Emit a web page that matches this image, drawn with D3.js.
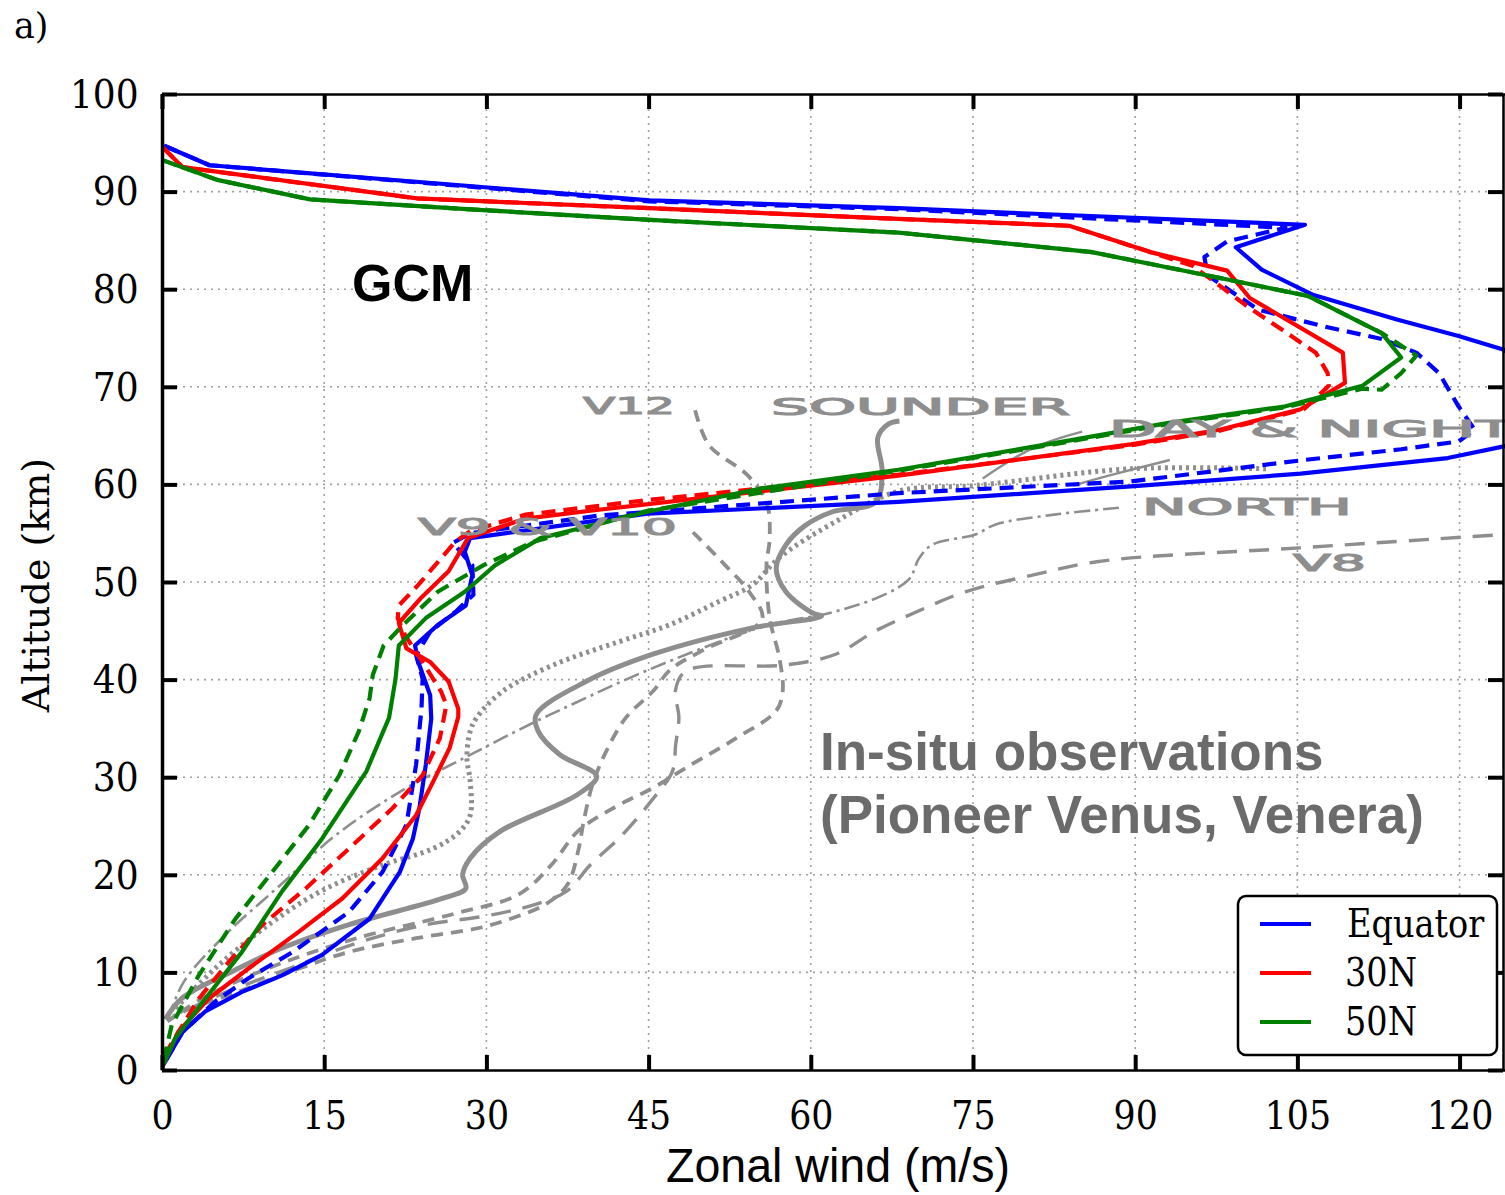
<!DOCTYPE html>
<html>
<head>
<meta charset="utf-8">
<script src="https://cdn.jsdelivr.net/npm/d3@7"></script>
<style>
body { margin: 0; background: #fff; }
</style>
</head>
<body>
<div id="chart"></div>
<script>
// ticks
var xTicks = [0, 15, 30, 45, 60, 75, 90, 105, 120];
var yTicks = [0, 10, 20, 30, 40, 50, 60, 70, 80, 90, 100];

// GCM profiles, [zonal wind m/s, altitude km]
var eqSolid = [[0.2,94.7],[4.4,92.7],[45.1,89.1],[68.1,88.3],[105.7,86.6],[99.3,84.3],[101.7,82.0],[106.5,79.4],[114.2,76.9],[119.9,75.2],[124.1,73.8],[128,70],[128,66],[124.1,63.9],[118.9,62.7],[105.3,61.1],[89.6,59.8],[68.1,58.2],[44.9,57.0],[28.5,54.5],[28.0,53.1],[28.7,50.7],[28.1,47.6],[25.5,45.6],[23.4,43.5],[23.7,41.8],[24.8,38.4],[24.9,36],[24.4,31.3],[23.8,26.8],[23.2,23.7],[22.0,20.3],[19.2,15.5],[14.8,11.8],[11.1,9.7],[7.4,8.0],[4.0,6.0],[1.9,3.9],[0,0.3]];
var eqDash = [[0.2,94.7],[4.4,92.7],[45.1,89.0],[68.1,88.2],[103.9,86.3],[98.5,84.9],[96.4,83.3],[96.7,81.4],[101.4,77.9],[107.4,76.2],[112.8,74.9],[116.0,73.5],[118.1,71.4],[119.9,68.0],[121.4,65.6],[119.9,64.4],[114.6,63.6],[105.6,62.5],[89.6,60.3],[68.1,59.1],[40.4,56.8],[28.5,55.0],[26.9,54.0],[28.7,51.7],[28.8,48.7],[27.2,47.0],[24.8,44.9],[23.5,42.5],[24.1,40.1],[24.0,37.1],[23.5,31.3],[22.6,25.1],[20.4,20.3],[17.3,16.2],[12.1,12.1],[8.0,9.4],[4.9,7.0],[1.9,3.9],[0,0.3]];
var n30Solid = [[0.1,94.5],[1.9,92.5],[23.6,89.3],[45.1,88.3],[68.1,87.2],[83.9,86.5],[91.4,83.8],[98.5,81.9],[100.6,79.1],[109.2,73.5],[109.4,70.4],[105.3,67.7],[97.8,65.6],[89.6,64.1],[68.1,60.9],[40.4,57.4],[33.6,56.5],[28.3,54.5],[26.5,51.1],[23.9,48.3],[21.9,45.8],[22.6,43.2],[24.8,41.8],[26.5,39.8],[27.4,37.0],[27.4,36.2],[26.6,33.0],[25.1,29.6],[23.5,26.1],[20.4,21.7],[16.7,17.6],[12.7,14.2],[8.0,10.4],[4.3,7.3],[1.5,3.9],[0,0.3]];
var n30Dash = [[0.1,94.5],[1.9,92.5],[23.6,89.3],[45.1,88.3],[68.1,87.2],[83.9,86.5],[91.4,83.8],[95.3,82.4],[97.4,80.7],[100.3,78.3],[106.7,73.5],[107.8,71.4],[107.9,70.1],[105.6,67.7],[97.8,65.5],[89.6,64.0],[68.1,61.0],[44.9,58.4],[33.6,56.9],[28.5,55.2],[27.1,54.1],[23.7,49.7],[21.9,47.6],[21.8,46.3],[22.5,44.5],[23.7,42.5],[25.8,38.8],[26.3,37.4],[25.7,34.0],[24.1,30.2],[21.3,26.8],[17.3,22.7],[13.3,18.6],[9.3,14.9],[6.2,11.1],[3.4,7.3],[0.6,2.2],[0,0.3]];
var n50Solid = [[0.1,93.2],[5.1,91.2],[13.7,89.2],[29.7,88.1],[45.1,87.1],[68.1,85.8],[86.0,83.8],[96.7,81.4],[106.0,79.3],[112.8,75.5],[114.6,73.0],[111.0,70.1],[103.9,68.0],[93.1,66.3],[82.4,64.2],[68.1,61.5],[55.5,59.6],[44.9,57.2],[35.0,54.5],[30.8,51.7],[28.0,49.0],[24.4,46.3],[21.9,43.5],[21.6,40.1],[21.3,38.1],[21.0,36.1],[18.9,30.6],[14.8,23.7],[11.1,18.3],[7.4,12.1],[4.0,7.3],[1.2,3.2],[0,0.3]];
var n50Dash = [[0.1,93.2],[5.1,91.2],[13.7,89.2],[29.7,88.1],[45.1,87.1],[68.1,85.8],[86.0,83.8],[96.7,81.4],[106.0,79.3],[112.8,75.5],[114.2,74.5],[116.0,73.2],[114.6,71.4],[112.8,69.7],[111.0,69.8],[103.9,67.9],[93.1,66.2],[82.4,64.1],[68.1,61.4],[44.9,57.3],[34.3,54.1],[29.7,51.7],[25.5,49.0],[22.3,45.6],[20.5,43.5],[19.5,40.5],[19.2,38.1],[18.2,34.7],[16.4,30.2],[13.6,25.1],[10.2,20.3],[6.8,15.5],[3.4,9.7],[0.9,4.6],[0,0.3]];

// in-situ profiles (Pioneer Venus, Venera)
var sounder = [[68.2,66.5],[67.2,66.2],[66.2,64.8],[66.6,61.3],[66.0,58.2],[62.0,57.2],[59.5,55.8],[57.7,53.8],[56.8,51.4],[57.7,49.0],[60.2,46.8],[61.0,46.5],[54.6,45.3],[45.4,42.6],[39.2,39.8],[34.6,36.4],[34.8,34.7],[36.8,32.3],[40.2,30.1],[38.4,28.2],[31.2,24.4],[28.5,21.7],[27.8,20.0],[28.1,18.6],[26.0,17.6],[17.3,14.9],[11.1,12.5],[6.5,10.1],[1.9,7.4],[0.3,5.2]];
var v12 = [[49.3,67.6],[50.6,64.0],[54.1,61.0],[55.9,58.2],[56.2,54.5],[55.9,51.7],[56.2,46.3],[57.1,42.2],[57.4,38.8],[56.8,36.8],[53.1,34.0],[48.5,31.0],[45.4,28.9],[42,27],[38.5,24.5],[36,21],[33,18],[27,16],[18,13.5],[10,10.5],[4,7.5],[0.5,5]];
var v9v10 = [[49.1,55.1],[52.1,51.7],[54.3,49.0],[55.5,46.2],[50,43],[47,41],[45.4,38.8],[42.9,36.1],[41.1,32.7],[39.8,29.2],[39.0,25.5],[38.5,22.5],[37.5,19.0],[35.5,17.0],[32.5,15.6],[29.5,14.6],[23.5,13.5],[17.3,12.1],[12.7,10.4],[7,8],[2,6],[0.5,5]];
var v8 = [[126,55.0],[105.2,53.5],[86.6,52.1],[80.5,50.7],[74.3,49.0],[69.7,46.9],[66,45],[62.3,42.6],[57.7,41.5],[48.5,40.9],[47.5,39],[47.8,36.1],[47.5,33.3],[47.2,30.6],[45.2,27.5],[42.5,24],[39.6,21.0],[37.4,18.3],[34,16.8],[30,15.8],[24,14.8],[18,13],[12,10.5],[6,8],[1,5.5]];
var dayProbe = [[102.1,61.6],[89.6,61.6],[75.3,59.9],[68.1,59.3],[62,56],[57.1,52.5],[54.6,49.7],[51.5,48.0],[46.9,45.6],[42.3,43.9],[36.2,41.5],[31.5,38.8],[29.1,36.1],[28.5,34.7],[28.2,32.0],[28.5,29.6],[28.5,26.1],[27.5,24.4],[25.1,22.7],[20.4,21.0],[15,18.5],[10,15],[5,10.5],[1,6]];
var northProbe = [[88.5,57.6],[82.5,56.9],[77.1,55.9],[75.3,54.9],[71.2,53.8],[70.0,52.4],[69.1,50.3],[66.6,48.6],[62.0,46.9],[55.8,45.5],[45,41],[38,37.5],[34.0,35.4],[28,32],[22,28.5],[16,24],[11,19],[6,14],[2,9],[0.5,5]];
var nightA = [[85.1,65.4],[80.5,63.7],[75.9,60.6]];
var nightB = [[93.2,62.5],[87.9,61.0],[84.3,59.9]];

var legendNames = ["Equator", "30N", "50N"];
var colors = ["#0000ff", "#ff0000", "#008000"];

var W = 1505, H = 1195;
var svg = d3.select("#chart").append("svg")
    .attr("width", W)
    .attr("height", H);

var x = d3.scaleLinear().domain([0, 124.2]).range([162, 1505]);
var y = d3.scaleLinear().domain([0, 100]).range([1070, 94]);

svg.append("defs").append("clipPath").attr("id", "plotclip")
  .append("rect").attr("x", 162).attr("y", 94).attr("width", 1343).attr("height", 976);

// grid
var grid = svg.append("g").attr("class", "grid");
grid.selectAll(".vg").data(xTicks.slice(1)).enter().append("line")
    .attr("x1", function(d) { return x(d); }).attr("x2", function(d) { return x(d); })
    .attr("y1", y(0)).attr("y2", y(100))
    .style("stroke", "#a0a0a0").style("stroke-width", 1.6).style("stroke-dasharray", "2,5");
grid.selectAll(".hg").data(yTicks.slice(1, -1)).enter().append("line")
    .attr("x1", x(0)).attr("x2", 1505)
    .attr("y1", function(d) { return y(d); }).attr("y2", function(d) { return y(d); })
    .style("stroke", "#a0a0a0").style("stroke-width", 1.6).style("stroke-dasharray", "2,5");

var line = d3.line()
    .x(function(d) { return x(d[0]); })
    .y(function(d) { return y(d[1]); })
    .curve(d3.curveLinear);

var smooth = d3.line()
    .x(function(d) { return x(d[0]); })
    .y(function(d) { return y(d[1]); })
    .curve(d3.curveCatmullRom.alpha(0.5));

// grey observations underlay
var grey = "#8e8e8e";
var obs = svg.append("g").attr("clip-path", "url(#plotclip)");
function obsLine(data, width, dash) {
  obs.append("path").datum(data)
    .attr("d", smooth)
    .style("fill", "none")
    .style("stroke", grey)
    .style("stroke-width", width)
    .style("stroke-linecap", "butt")
    .style("stroke-dasharray", dash);
}
obsLine(dayProbe, 5, "3,4");
obsLine(northProbe, 2.6, "16,5,3,5");
obsLine(v8, 3.4, "20,12");
obsLine(v9v10, 3.8, "12,8");
obsLine(v12, 3.8, "12,8");
obsLine(nightA, 2.4, null);
obsLine(nightB, 2.4, null);
obsLine(sounder, 5, null);

// GCM lines
var gcm = svg.append("g").attr("clip-path", "url(#plotclip)");
var series = [
  {data: eqSolid, c: 0, dash: null}, {data: eqDash, c: 0, dash: "14,8"},
  {data: n30Solid, c: 1, dash: null}, {data: n30Dash, c: 1, dash: "14,8"},
  {data: n50Solid, c: 2, dash: null}, {data: n50Dash, c: 2, dash: "14,8"}
];
series.forEach(function(s) {
  gcm.append("path").datum(s.data)
    .attr("d", line)
    .style("fill", "none")
    .style("stroke", colors[s.c])
    .style("stroke-width", 4.2)
    .style("stroke-linejoin", "round")
    .style("stroke-dasharray", s.dash);
});

// grey labels of the observed profiles
var obsLabels = [
  {t: "V12", x: 583, y: 414, w: 92},
  {t: "SOUNDER", x: 771, y: 415, w: 299},
  {t: "DAY & NIGHT", x: 1109, y: 437, w: 404},
  {t: "NORTH", x: 1142, y: 515, w: 210},
  {t: "V8", x: 1293, y: 571, w: 73},
  {t: "V9 & V10", x: 418, y: 535, w: 259}
];
svg.selectAll(".obslab").data(obsLabels).enter().append("text")
    .attr("x", function(d) { return d.x; })
    .attr("y", function(d) { return d.y; })
    .attr("textLength", function(d) { return d.w; })
    .attr("lengthAdjust", "spacingAndGlyphs")
    .style("font-family", "DejaVu Sans")
    .style("font-size", "23px")
    .style("fill", grey)
    .style("stroke", grey)
    .style("stroke-width", 1.1)
    .text(function(d) { return d.t; });

// axes with inward ticks
var serif = "DejaVu Serif";
var xAxis = d3.axisBottom(x).tickValues(xTicks).tickSizeInner(-15).tickSizeOuter(0).tickPadding(31);
var yAxis = d3.axisLeft(y).tickValues(yTicks).tickSizeInner(-15).tickSizeOuter(0).tickPadding(26);
var gx = svg.append("g").attr("transform", "translate(0," + y(0) + ")").call(xAxis);
var gy = svg.append("g").attr("transform", "translate(" + x(0) + ",0)").call(yAxis);
var gt = svg.append("g").attr("transform", "translate(0," + y(100) + ")")
    .call(d3.axisTop(x).tickValues(xTicks).tickSizeInner(-15).tickSizeOuter(0).tickFormat(""));
var gr = svg.append("g").attr("transform", "translate(1503,0)")
    .call(d3.axisRight(y).tickValues(yTicks).tickSizeInner(-15).tickSizeOuter(0).tickFormat(""));

[gx, gy, gt, gr].forEach(function(g) {
  g.select(".domain").style("stroke", "#000").style("stroke-width", 2.5);
  g.selectAll(".tick line").style("stroke", "#000").style("stroke-width", 4);
  g.selectAll("text")
    .style("font-family", serif)
    .style("font-size", "40px")
    .style("fill", "#000");
});
gx.selectAll(".tick text").attr("transform", "scale(0.87,1)");
gy.selectAll(".tick text").attr("dy", "0.33em").attr("transform", "scale(0.9,1)");
gy.select(".domain").style("stroke-width", 3.5);

// axis titles
svg.append("text")
    .attr("transform", "translate(49,585) rotate(-90)")
    .attr("text-anchor", "middle")
    .style("font-family", serif)
    .style("font-size", "38px")
    .text("Altitude (km)");

svg.append("text")
    .attr("transform", "translate(838,1182) scale(0.97,1)")
    .attr("text-anchor", "middle")
    .style("font-family", "Liberation Sans")
    .style("font-size", "48px")
    .text("Zonal wind (m/s)");

svg.append("text")
    .attr("x", 14).attr("y", 38)
    .style("font-family", serif)
    .style("font-size", "35px")
    .text("a)");

// annotations
svg.append("text")
    .attr("x", 352).attr("y", 301)
    .style("font-family", "Liberation Sans")
    .style("font-weight", "bold")
    .style("font-size", "52px")
    .text("GCM");

var situ = svg.append("text")
    .style("font-family", "Liberation Sans")
    .style("font-weight", "bold")
    .style("font-size", "53px")
    .style("fill", "#6b6b6b");
situ.append("tspan").attr("x", 820).attr("y", 770).text("In-situ observations");
situ.append("tspan").attr("x", 820).attr("y", 833).text("(Pioneer Venus, Venera)");

// legend
var lg = svg.append("g").attr("transform", "translate(1238,896)");
lg.append("rect")
    .attr("width", 259).attr("height", 159)
    .attr("rx", 8).attr("ry", 8)
    .style("fill", "#fff").style("stroke", "#000").style("stroke-width", 2.5);
legendNames.forEach(function(n, i) {
  lg.append("line")
    .attr("x1", 22).attr("x2", 73)
    .attr("y1", 28 + i * 49).attr("y2", 28 + i * 49)
    .style("stroke", colors[i]).style("stroke-width", 4);
  lg.append("text")
    .attr("transform", "translate(" + (i === 0 ? 109 : 107) + "," + (41 + i * 49) + ") scale(0.86,1)")
    .style("font-family", serif)
    .style("font-size", "39px")
    .text(n);
});
</script>
</body>
</html>
